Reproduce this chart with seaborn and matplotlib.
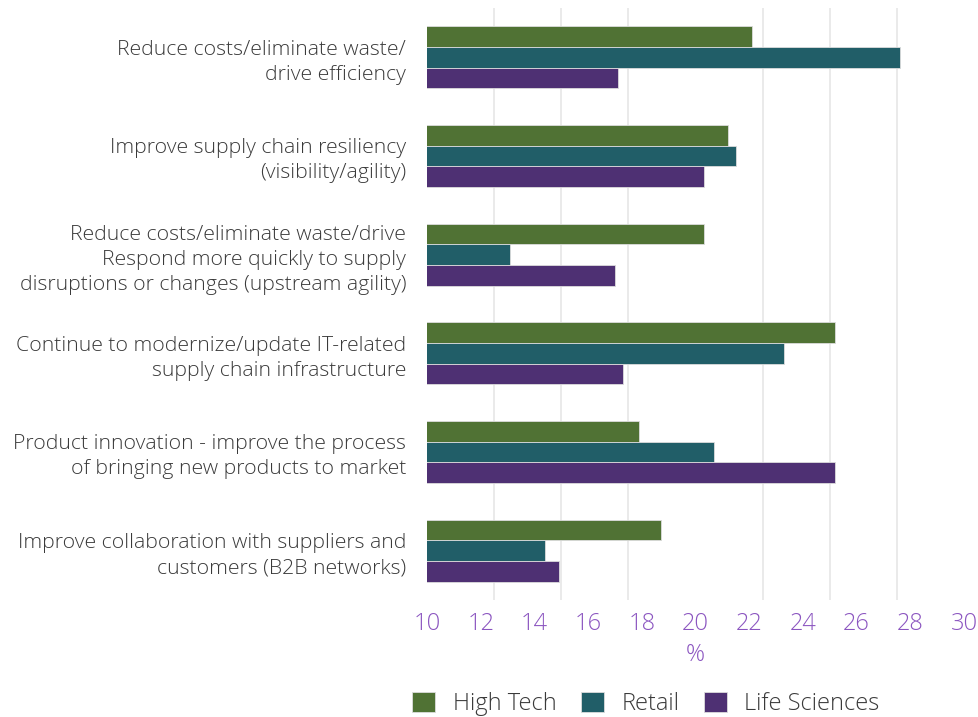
import matplotlib
matplotlib.use("Agg")
import matplotlib.pyplot as plt
import seaborn as sns
import pandas as pd
import numpy as np

categories = [
    "Reduce costs/eliminate waste/\ndrive efficiency",
    "Improve supply chain resiliency\n(visibility/agility)",
    "Reduce costs/eliminate waste/drive\nRespond more quickly to supply\ndisruptions or changes (upstream agility)",
    "Continue to modernize/update IT-related\nsupply chain infrastructure",
    "Product innovation - improve the process\nof bringing new products to market",
    "Improve collaboration with suppliers and\ncustomers (B2B networks)",
]
series_names = ["High Tech", "Retail", "Life Sciences"]
high_tech = [22.1, 21.2, 20.3, 25.2, 17.9, 18.7]
retail = [27.6, 21.5, 13.1, 23.3, 20.7, 14.4]
life_sciences = [17.1, 20.3, 17.0, 17.3, 25.2, 14.9]
tick_labels = ["10", "12", "14", "16", "18", "20", "22", "24", "26", "28", "30"]

colors = ["#507234", "#215E68", "#4E3073"]

df = pd.DataFrame({
    "category": categories * 3,
    "series": [series_names[0]] * 6 + [series_names[1]] * 6 + [series_names[2]] * 6,
    "value": high_tech + retail + life_sciences,
})

sns.set_theme(style="white")
plt.rcParams["font.family"] = ["Open Sans", "DejaVu Sans"]

text_col = "#3a3a3a"
purple_txt = "#8B55C0"

fig = plt.figure(figsize=(9.79, 7.17), dpi=100)
ax = fig.add_axes([427 / 979, 117 / 717, 537 / 979, 592 / 717])

sns.barplot(data=df, y="category", x="value", hue="series", order=categories,
            hue_order=series_names, palette=colors, saturation=1, orient="h",
            width=0.63, edgecolor="#dcdcdc", linewidth=0.6, ax=ax, legend=True)

ax.set_xlim(10, 30)
ax.set_ylim(5.5, -0.5)

# gridlines (every 2.5) independent of the labels (every 2), as in the reference
ax.set_xticks(np.linspace(10, 30, 9), minor=True)
ax.grid(True, which="minor", axis="x", color="#e6e6e6", linewidth=1.2)
ax.set_axisbelow(True)
ax.set_xticks(np.linspace(10, 30, len(tick_labels)))
ax.set_xticklabels(tick_labels)
ax.tick_params(axis="x", which="both", length=0, colors=purple_txt, labelsize=17, pad=9)
ax.tick_params(axis="y", length=0, labelsize=15.3, colors=text_col, pad=15)
for lbl in ax.get_yticklabels():
    lbl.set_linespacing(1.33)
    lbl.set_fontweight("light")
for lbl in ax.get_xticklabels():
    lbl.set_fontweight("light")

ax.set_ylabel("")
ax.set_xlabel("%", color=purple_txt, fontsize=17, labelpad=5, fontweight="light")
for s in ax.spines.values():
    s.set_visible(False)

handles, labels = ax.get_legend_handles_labels()
ax.get_legend().remove()
fig.legend(handles, labels, loc="lower center", bbox_to_anchor=(646 / 979, -0.028),
           ncol=3, frameon=False, handlelength=0.95, handleheight=0.95,
           handletextpad=0.75, columnspacing=1.05, labelcolor=text_col,
           prop={"size": 17, "weight": "light"})

fig.savefig("out.png", dpi=100)
